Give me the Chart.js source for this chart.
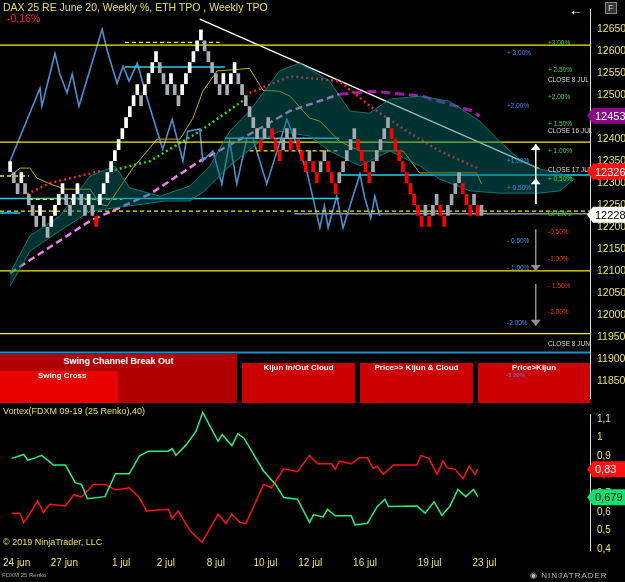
<!DOCTYPE html>
<html><head><meta charset="utf-8">
<script src="https://cdn.jsdelivr.net/npm/chart.js@4.4.1/dist/chart.umd.min.js"></script>
<style>
body{margin:0;background:#000;width:625px;height:582px;overflow:hidden;position:relative;font-family:Arial,"Liberation Sans",sans-serif}
#c1{position:absolute;left:0;top:0}
#c2{position:absolute;left:0;top:405px}
.t{position:absolute;white-space:nowrap}
.box{position:absolute;color:#fff;font-weight:bold;font-size:8px;text-align:center}
</style></head><body>
<canvas id="c1" width="625" height="408"></canvas>
<canvas id="c2" width="625" height="177"></canvas>
<div class="t" style="left:3px;top:1px;color:#e8e040;font-size:10.5px">DAX 25 RE June 20, Weekly %, ETH TPO , Weekly TPO</div>
<div class="t" style="left:7px;top:12px;color:#ff2020;font-size:10.5px">-0,16%</div>
<div class="box" style="left:0;top:354px;width:237px;height:49px;background:#b00000;"><div style="margin-top:2px;font-size:9px">Swing Channel Break Out</div></div>
<div class="box" style="left:0;top:371px;width:118px;height:32px;background:#e80000;text-align:left"><span style="margin-left:38px">Swing Cross</span></div>
<div class="box" style="left:242px;top:363px;width:113px;height:40px;background:#cc0000;">Kijun In/Out Cloud</div>
<div class="box" style="left:360px;top:363px;width:113px;height:40px;background:#cc0000;">Price&gt;&gt; Kijun &amp; Cloud</div>
<div class="box" style="left:478px;top:363px;width:112px;height:40px;background:#cc0000;">Price&gt;Kijun<div style="font-size:6px;color:#6080ff;font-weight:normal;text-align:left;margin-left:28px">-3.00%</div></div>
<div class="t" style="left:3px;top:406px;color:#e8e040;font-size:9px">Vortex(FDXM 09-19 (25 Renko),40)</div>
<div class="t" style="left:3px;top:537px;color:#e8e040;font-size:9px">© 2019 NinjaTrader, LLC</div>
<div class="t" style="left:2px;top:572px;color:#aaa;font-size:6px">FDXM 25 Renko</div>
<div class="t" style="left:530px;top:571px;color:#bbb;font-size:8px;letter-spacing:1px">◉ NINJATRADER</div>
<div class="t" style="left:569px;top:2px;color:#fff;font-size:14px">←</div>
<div class="t" style="left:605px;top:2px;color:#ccc;font-size:9px;border:1px solid #888;padding:0 2px;background:#333">F</div>
<script>
// ---------- DATA ----------
const renkoLows = [12325,12300,12275,12300,12275,12250,12225,12200,12225,12200,12175,12200,12225,12250,12275,12250,12225,12250,12275,12250,12225,12250,12225,12200,12250,12275,12300,12325,12350,12375,12400,12425,12450,12475,12500,12475,12500,12525,12550,12575,12550,12525,12500,12525,12500,12475,12500,12525,12550,12575,12600,12625,12600,12575,12550,12525,12500,12525,12500,12525,12550,12525,12500,12475,
12450,12425,12400,12375,12400,12425,12400,12375,12350,12375,12400,12375,12400,12375,12350,12325,12350,12325,12300,12325,12350,12325,12300,12275,12300,12325,12350,12375,12400,12375,12350,12325,12300,12325,12350,12375,12400,12425,12400,12375,12350,12325,12300,12275,12250,12225,12200,12225,12200,12225,12250,12225,12200,12225,12250,12275,12300,12275,12250,12225,12250,12225,12225];
const brickSize = 25;
const cloudUpperX = [0,5.3,13.3,21.4,28,32,40,48,53.4,58.7,64,72,77.4,85.4,90.8,96,101.5,109.5,117.5,125.5,130.8,136,141.5,146.8,150.8];
const cloudUpperY = [12095,12180,12225,12316,12339,12289,12270,12293,12339,12418,12464,12555,12573,12532,12464,12459,12491,12498,12486,12441,12395,12355,12332,12323,12309];
const cloudLowerX = [0,5.3,13.3,21.4,32,41.4,48,52,58.7,66.8,72,80,85.4,93.5,101.5,109.5,114.8,123,130.8,141.5,146.8,150.8];
const cloudLowerY = [12066,12145,12191,12236,12248,12259,12259,12282,12339,12395,12418,12407,12373,12339,12373,12339,12309,12282,12277,12277,12282,12309];
const kijunX = [0,2.7,5.3,7.2,10.7,14.7,21.4,24,26,32.8,35.5,39.3,45.4,48.9,51.5,55.3,64,67.6,72,74.8,80,82.8,88,93.5,105,109.5,124.7,126];
const kijunY = [12316,12334,12334,12311,12298,12286,12286,12252,12248,12334,12361,12400,12400,12448,12509,12555,12561,12511,12509,12498,12448,12441,12395,12373,12373,12323,12323,12298];
const dotRedAX = [4.5,10.7,24], dotRedAY = [12275,12300,12327];
const dotGreenX = [26.7,37.4,50.7,64], dotGreenY = [12327,12350,12418,12498];
const dotRedBX = [64,74.8,88,97,106,114.8,125.5], dotRedBY = [12505,12543,12532,12470,12418,12373,12332];
const pinkX = [0,21.4,37.4,50.7,64,74.8,88], pinkY = [12095,12214,12275,12350,12411,12464,12502];
const purpleX = [88,97,110,123.6,125.5], purpleY = [12502,12509,12498,12464,12452];
const chikouX = [0,8,8.5,12,13.3,15.2,16.6,18.4,24.6,26,28.6,30.2,31.8,34,36.6,40.8,43.3,46.2,47.5,50.7,51.5,54.2,56.6,58.7,60.6,63.3,64.9,68.6,74,79.3,82.8,84,85,87.3,89,93.5,94.8,96.4,97.5,98.8];
const chikouY = [12350,12516,12475,12595,12548,12505,12548,12475,12650,12600,12527,12566,12532,12573,12493,12377,12445,12350,12418,12423,12350,12373,12298,12395,12298,12402,12402,12298,12445,12327,12198,12248,12198,12270,12198,12320,12266,12220,12270,12225];
const trendX = [50.7,141.5], trendY = [12673,12332];
// horizontal levels: [price, fromIdx, toIdx]
const yellowSolid = [[12614,-2.7,155],[12393,-2.7,155],[12100,-2.7,155],[11957,-2.7,155]];
const yellowDashed = [[12620,30.7,56],[12316,-2.7,5],[12263,5,30],[12373,64,88],[12236,-2.7,155]];
const cyanLines = [[12564,30.7,57.4],[12402,57.4,88],[12318,88,155],[12265,-2.7,88],[12232,-2.7,2.7]];
const greyLines = [[12230,76,155]];
const separator = [[11914,-2.7,155]];
const greenLabels = [["+3.00%",12618],["+ 2.50%",12557],["+2.00%",12495],["+ 1.50%",12434],["+ 1.00%",12373],["+ 0,50%",12309],["OPEN 2",12230]];
const redLabels = [["-0,50%",12189],["-1.00%",12127],["- 1.50%",12066],["-2.00%",12005]];
const closeLabels = [["CLOSE 8 JUL",12534],["CLOSE 16 JUL",12418],["CLOSE 17 JUL",12330],["CLOSE 8 JUN",11934]];
const blueLabels = [["+ 3.00%",12595],["+2.00%",12475],["+1.00%",12350],["+ 0.50%",12289],["- 0.50%",12168],["- 1.00%",12105],["-2.00%",11982]];
const upArrows = [[12252,12389],[12252,12311]], downArrows = [[12195,12100],[12070,11975]];
const arrowX = 140.5;
const priceTags = [[12453,'#8a0a8a','#fff'],[12326,'#ff1010','#fff'],[12228,'#ffffff','#000']];
const vortPlusX = [0,3.2,4.3,5.9,8,11.2,14.4,17,18.7,20.3,25,27.8,31.5,34.2,36.6,42,43,44,46.8,49.4,51.2,55.3,56.4,59,60.6,62.2,67.5,70.7,72.9,76.6,79.8,80.9,83.5,84.6,86.7,91,92,95.3,97.9,100,101,108.6,110.8,113.2,115.3,117.5,119.6,121.7,123.8,124.9];
const vortPlusY = [0.888,0.909,0.879,0.888,0.904,0.852,0.852,0.757,0.748,0.671,0.682,0.805,0.805,0.9,0.927,0.927,0.941,0.905,0.962,1.034,1.136,0.98,1.016,0.957,1.02,0.998,0.82,0.748,0.677,0.668,0.543,0.584,0.573,0.614,0.579,0.579,0.53,0.538,0.627,0.668,0.629,0.632,0.593,0.654,0.582,0.632,0.721,0.682,0.721,0.682];
const vortMinusX = [0,2.1,3.2,4.8,6.9,8.5,10.1,14.4,16.6,18.7,21.9,25,27.8,31.5,34.2,36.1,42,43,44.6,47.8,51,55.3,57.4,59,61.2,62.8,67.5,69.6,72.9,76.6,79.8,82,85.7,86.7,87.8,91,93.2,95.3,96.9,97.9,99.6,102.3,108.6,109.7,111.8,114,115.6,116.7,118.8,121,122.6,124.2,124.9];
const vortMinusY = [0.593,0.593,0.543,0.588,0.659,0.596,0.641,0.632,0.691,0.68,0.748,0.748,0.718,0.73,0.677,0.605,0.614,0.564,0.605,0.498,0.436,0.588,0.538,0.588,0.543,0.538,0.748,0.73,0.832,0.816,0.904,0.859,0.859,0.829,0.873,0.859,0.891,0.891,0.834,0.846,0.802,0.852,0.852,0.904,0.888,0.802,0.873,0.838,0.829,0.78,0.846,0.802,0.832];
const vortTags = [[0.83,'#ff1010','#fff','0,83'],[0.679,'#10e070','#000','0,679']];
const dateIdx = [1.3,14.1,29.3,41.3,54.7,68,80,94.7,112,126.7];
const dateLabels = ['24 jun','27 jun','1 jul','2 jul','8 jul','10 jul','12 jul','16 jul','19 jul','23 jul'];
const priceTicks = [11850,11900,11950,12000,12050,12100,12150,12200,12250,12300,12350,12400,12450,12500,12550,12600,12650];
const vortTicks = [0.4,0.5,0.6,0.7,0.8,0.9,1,1.1];
// ---------- BUILD ----------
const X_MIN=-2.7, X_MAX=155, AXW=35, REDSTART=67, SPECIAL_RED=23;
const pts=(xs,ys)=>xs.map((x,i)=>({x,y:ys[i]}));
const line=(data,color,extra)=>Object.assign({type:'line',data,borderColor:color,borderWidth:1.5,pointRadius:0,tension:0,fill:false},extra||{});
const brickColors = renkoLows.map((v,i)=>{
  const up = i>0 ? v>renkoLows[i-1] : true;
  if(i===renkoLows.length-1) return '#9aa3ad';
  if(i===SPECIAL_RED) return '#ff0000';
  if(i>=REDSTART) return up ? '#a0a8b0' : '#ff0000';
  return up ? '#ffffff' : '#a8aeb5';
});
const ds=[];
ds.push(line(pts(cloudUpperX,cloudUpperY),'rgba(0,140,140,0.8)',{borderWidth:1}));
ds.push(line(pts(cloudLowerX,cloudLowerY),'rgba(0,140,140,0.8)',{borderWidth:1,fill:'-1',backgroundColor:'rgba(0,110,110,0.45)'}));
const hl=(arr,color,extra)=>arr.forEach(([p,a,b])=>ds.push(line([{x:a,y:p},{x:b,y:p}],color,extra)));
hl(separator,'#1c8fd0',{borderWidth:2});
hl(greyLines,'#909090',{borderWidth:1.5});
hl(yellowSolid,'#f0f000',{borderWidth:1.3});
hl(yellowDashed,'#f0f000',{borderWidth:1.3,borderDash:[4,3]});
hl(cyanLines,'#20d0f0',{borderWidth:1.5});
ds.push(line(pts(chikouX,chikouY),'#4a90d0',{borderWidth:1.6}));
ds.push(line(pts(kijunX,kijunY),'#b8b000',{borderWidth:1}));
ds.push(line(pts(dotRedAX,dotRedAY),'#ff2020',{borderWidth:2.5,borderDash:[2,3]}));
ds.push(line(pts(dotGreenX,dotGreenY),'#20e020',{borderWidth:2.5,borderDash:[2,3]}));
ds.push(line(pts(dotRedBX,dotRedBY),'#ff2020',{borderWidth:2.5,borderDash:[2,3]}));
ds.push(line(pts(pinkX,pinkY),'#f080e8',{borderWidth:2.5,borderDash:[7,4]}));
ds.push(line(pts(purpleX,purpleY),'#a018a8',{borderWidth:3,borderDash:[9,5]}));
ds.push(line(pts(trendX,trendY),'#ffffff',{borderWidth:1.3}));
ds.push({type:'bar',data:renkoLows.map((v,i)=>({x:i,y:[v+1,v+brickSize-1]})),backgroundColor:brickColors,barThickness:3,order:-1});

const fitY = s=>{s.width=AXW;};
const drawTag=(ctx,y,bg,fg,txt,x0)=>{
  ctx.save();ctx.fillStyle=bg;ctx.beginPath();
  ctx.moveTo(x0,y);ctx.lineTo(x0+6,y-8);ctx.lineTo(625,y-8);ctx.lineTo(625,y+8);ctx.lineTo(x0+6,y+8);ctx.closePath();ctx.fill();
  ctx.fillStyle=fg;ctx.font='11px Arial';ctx.textAlign='left';ctx.textBaseline='middle';ctx.fillText(txt,x0+8,y+1);ctx.restore();
};
const overlay1={id:'ov1',afterDraw(c){
  const ctx=c.ctx,y=c.scales.y,x=c.scales.x;
  ctx.save();ctx.font='6.5px Arial';ctx.textBaseline='middle';
  const col=(arr,xp,color)=>arr.forEach(([t,p])=>{ctx.fillStyle=color;ctx.fillText(t,xp,y.getPixelForValue(p));});
  col(greenLabels,548,'#30e030');col(redLabels,548,'#ff3010');col(closeLabels,548,'#d8d8d8');col(blueLabels,507,'#3090ff');
  const ax=x.getPixelForValue(arrowX);
  const arrow=(a,b,color)=>{const ya=y.getPixelForValue(a),yb=y.getPixelForValue(b),d=yb<ya?6:-6;
    ctx.strokeStyle=color;ctx.fillStyle=color;ctx.lineWidth=1.5;ctx.beginPath();ctx.moveTo(ax,ya);ctx.lineTo(ax,yb);ctx.stroke();
    ctx.beginPath();ctx.moveTo(ax,yb);ctx.lineTo(ax-5,yb+d);ctx.lineTo(ax+5,yb+d);ctx.closePath();ctx.fill();};
  upArrows.forEach(([a,b])=>arrow(a,b,'#ffffff'));downArrows.forEach(([a,b])=>arrow(a,b,'#909090'));
  ctx.restore();
  priceTags.forEach(([p,bg,fg])=>drawTag(ctx,y.getPixelForValue(p),bg,fg,String(p),587));
}};
new Chart(document.getElementById('c1'),{type:'bar',data:{datasets:ds},plugins:[overlay1],
 options:{responsive:false,animation:false,events:[],layout:{padding:0},
  plugins:{legend:{display:false},tooltip:{enabled:false}},
  scales:{x:{type:'linear',min:X_MIN,max:X_MAX,display:false,offset:false},
   y:{position:'right',min:11809,max:12695.5,afterFit:fitY,afterBuildTicks:s=>{s.ticks=priceTicks.map(v=>({value:v}));},
      grid:{display:false,drawTicks:true,tickLength:4,tickColor:'#ddd'},border:{color:'#ddd'},
      ticks:{color:'#e8e060',font:{size:10.5,family:'Arial'},padding:3,callback:v=>String(v)}}}}});

const overlay2={id:'ov2',afterDraw(c){const y=c.scales.y;vortTags.forEach(([v,bg,fg,t])=>drawTag(c.ctx,y.getPixelForValue(v),bg,fg,t,587));}};
new Chart(document.getElementById('c2'),{type:'line',plugins:[overlay2],
 data:{datasets:[line(pts(vortPlusX,vortPlusY),'#20f080',{borderWidth:1.5,clip:false}),line(pts(vortMinusX,vortMinusY),'#ff1010',{borderWidth:1.5,clip:false})]},
 options:{responsive:false,animation:false,events:[],layout:{padding:0},
  plugins:{legend:{display:false},tooltip:{enabled:false}},
  scales:{x:{type:'linear',min:X_MIN,max:X_MAX,offset:false,afterFit:s=>{s.height=32;},afterBuildTicks:s=>{s.ticks=dateIdx.map(v=>({value:v}));},
      grid:{display:false,tickLength:4,tickColor:'#ddd'},border:{display:false},
      ticks:{color:'#e8e060',font:{size:10,family:'Arial'},maxRotation:0,autoSkip:false,callback:v=>dateLabels[dateIdx.indexOf(v)]}},
   y:{position:'right',min:0.3946,max:1.127,afterFit:fitY,afterBuildTicks:s=>{s.ticks=vortTicks.map(v=>({value:v}));},
      grid:{display:false,tickLength:4,tickColor:'#ddd'},border:{color:'#ddd'},
      ticks:{color:'#e8e060',font:{size:10,family:'Arial'},padding:3,callback:v=>String(v).replace('.',',')}}}}});
</script></body></html>
